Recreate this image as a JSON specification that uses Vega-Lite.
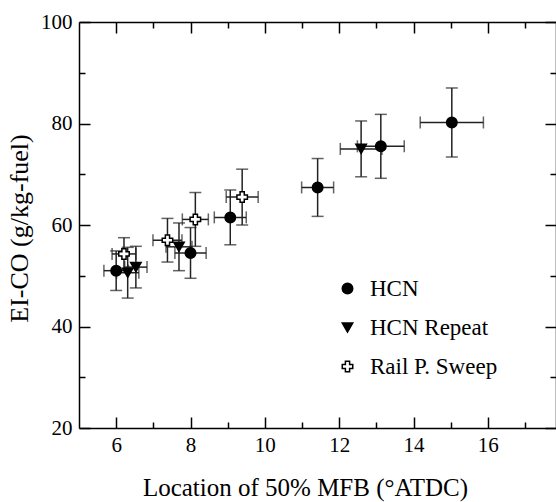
{
  "$schema": "https://vega.github.io/schema/vega-lite/v6.json",
  "autosize": "none",
  "padding": {"left": 79, "top": 22, "right": 0, "bottom": 74},
  "width": 477,
  "height": 406,
  "background": "white",
  "config": {
    "view": {"stroke": null},
    "axis": {
      "labelFont": "Liberation Serif",
      "titleFont": "Liberation Serif",
      "labelFontSize": 21,
      "titleFontSize": 25,
      "labelColor": "black",
      "titleColor": "black",
      "titleFontWeight": "normal",
      "domainColor": "black",
      "domainWidth": 1.5,
      "tickColor": "black",
      "tickWidth": 1.5,
      "grid": false,
      "zindex": 1
    }
  },
  "data": {
    "values": [
      {"s": "HCN", "x": 6.0, "y": 51.0, "xlo": 5.67, "xhi": 6.33, "ylo": 47.1, "yhi": 54.9},
      {"s": "HCN", "x": 8.0, "y": 54.5, "xlo": 7.58, "xhi": 8.42, "ylo": 49.5, "yhi": 59.5},
      {"s": "HCN", "x": 9.07, "y": 61.5, "xlo": 8.64, "xhi": 9.5, "ylo": 56.1, "yhi": 66.9},
      {"s": "HCN", "x": 11.42, "y": 67.4, "xlo": 10.99, "xhi": 11.85, "ylo": 61.7, "yhi": 73.1},
      {"s": "HCN", "x": 13.12, "y": 75.5, "xlo": 12.49, "xhi": 13.75, "ylo": 69.2, "yhi": 81.8},
      {"s": "HCN", "x": 15.03, "y": 80.2, "xlo": 14.18, "xhi": 15.88, "ylo": 73.4, "yhi": 87.0},
      {"s": "HCN Repeat", "x": 6.31, "y": 50.6, "xlo": 6.01, "xhi": 6.61, "ylo": 45.6, "yhi": 55.6},
      {"s": "HCN Repeat", "x": 6.53, "y": 51.7, "xlo": 6.23, "xhi": 6.83, "ylo": 47.6, "yhi": 55.8},
      {"s": "HCN Repeat", "x": 7.69, "y": 55.7, "xlo": 7.34, "xhi": 8.04, "ylo": 51.0, "yhi": 60.4},
      {"s": "HCN Repeat", "x": 12.59, "y": 75.0, "xlo": 12.03, "xhi": 13.15, "ylo": 69.5, "yhi": 80.5},
      {"s": "Rail P. Sweep", "x": 6.21, "y": 54.3, "xlo": 5.89, "xhi": 6.53, "ylo": 51.1, "yhi": 57.5},
      {"s": "Rail P. Sweep", "x": 7.38, "y": 57.0, "xlo": 6.99, "xhi": 7.77, "ylo": 52.7, "yhi": 61.3},
      {"s": "Rail P. Sweep", "x": 8.13, "y": 61.1, "xlo": 7.78, "xhi": 8.48, "ylo": 55.8, "yhi": 66.4},
      {"s": "Rail P. Sweep", "x": 9.39, "y": 65.5, "xlo": 8.96, "xhi": 9.82, "ylo": 60.0, "yhi": 71.0}
    ]
  },
  "resolve": {"axis": {"x": "independent", "y": "independent"}},
  "layer": [
    {
      "mark": {"type": "point", "opacity": 0},
      "encoding": {
        "x": {"field": "x", "type": "quantitative", "scale": {"domain": [5, 17.833], "nice": false, "zero": false},
          "axis": {"orient": "bottom", "values": [6, 7, 8, 9, 10, 11, 12, 13, 14, 15, 16, 17],
            "labelExpr": "datum.value % 2 === 0 ? datum.label : ''",
            "tickSize": -11, "labelPadding": 17,
            "tickDash": {"condition": {"test": "datum.value % 2 === 0", "value": [20, 0]}, "value": [6, 20]},
            "title": "Location of 50% MFB (°ATDC)", "titleX": 226, "titleY": 67, "titleBaseline": "alphabetic", "titleAlign": "center"}},
        "y": {"field": "y", "type": "quantitative", "scale": {"domain": [20, 100], "nice": false, "zero": false},
          "axis": {"orient": "left", "values": [20, 30, 40, 50, 60, 70, 80, 90, 100],
            "labelExpr": "datum.value % 20 === 0 ? datum.label : ''",
            "tickSize": -11, "labelPadding": 18,
            "tickDash": {"condition": {"test": "datum.value % 20 === 0", "value": [20, 0]}, "value": [6, 20]},
            "title": "EI-CO (g/kg-fuel)", "titleFontSize": 26, "titleX": -52, "titleY": 206, "titleBaseline": "alphabetic", "titleAlign": "center", "titleAngle": 270}}
      }
    },
    {
      "mark": {"type": "point", "opacity": 0},
      "encoding": {
        "x": {"field": "x", "type": "quantitative", "scale": {"domain": [5, 17.833], "nice": false, "zero": false},
          "axis": {"orient": "top", "values": [6, 7, 8, 9, 10, 11, 12, 13, 14, 15, 16, 17], "labels": false, "title": null, "tickSize": -11,
            "tickDash": {"condition": {"test": "datum.value % 2 === 0", "value": [20, 0]}, "value": [6, 20]}}},
        "y": {"field": "y", "type": "quantitative", "scale": {"domain": [20, 100], "nice": false, "zero": false},
          "axis": {"orient": "right", "values": [20, 30, 40, 50, 60, 70, 80, 90, 100], "labels": false, "title": null, "tickSize": -11,
            "tickDash": {"condition": {"test": "datum.value % 20 === 0", "value": [20, 0]}, "value": [6, 20]}}}
      }
    },
    {
      "mark": {"type": "rule", "color": "#222", "strokeWidth": 1.5},
      "encoding": {
        "x": {"field": "xlo", "type": "quantitative", "axis": null},
        "x2": {"field": "xhi"},
        "y": {"field": "y", "type": "quantitative", "axis": null}
      }
    },
    {
      "mark": {"type": "rule", "color": "#222", "strokeWidth": 1.5},
      "encoding": {
        "x": {"field": "x", "type": "quantitative", "axis": null},
        "y": {"field": "ylo", "type": "quantitative", "axis": null},
        "y2": {"field": "yhi"}
      }
    },
    {
      "mark": {"type": "tick", "orient": "horizontal", "color": "#222", "thickness": 1.5, "size": 12},
      "encoding": {
        "x": {"field": "x", "type": "quantitative", "axis": null},
        "y": {"field": "ylo", "type": "quantitative", "axis": null}
      }
    },
    {
      "mark": {"type": "tick", "orient": "horizontal", "color": "#222", "thickness": 1.5, "size": 12},
      "encoding": {
        "x": {"field": "x", "type": "quantitative", "axis": null},
        "y": {"field": "yhi", "type": "quantitative", "axis": null}
      }
    },
    {
      "mark": {"type": "tick", "orient": "vertical", "color": "#222", "thickness": 1.5, "size": 12},
      "encoding": {
        "x": {"field": "xlo", "type": "quantitative", "axis": null},
        "y": {"field": "y", "type": "quantitative", "axis": null}
      }
    },
    {
      "mark": {"type": "tick", "orient": "vertical", "color": "#222", "thickness": 1.5, "size": 12},
      "encoding": {
        "x": {"field": "xhi", "type": "quantitative", "axis": null},
        "y": {"field": "y", "type": "quantitative", "axis": null}
      }
    },
    {
      "mark": {"type": "point", "filled": true, "opacity": 1, "stroke": "black", "strokeWidth": 1.5, "size": 110},
      "encoding": {
        "x": {"field": "x", "type": "quantitative", "axis": null},
        "y": {"field": "y", "type": "quantitative", "axis": null},
        "shape": {"field": "s", "type": "nominal",
          "scale": {"domain": ["HCN", "HCN Repeat", "Rail P. Sweep"], "range": ["circle", "triangle-down", "cross"]},
          "legend": {"title": null, "orient": "none", "legendX": 257, "legendY": 255, "padding": 0, "rowPadding": 15, "labelOffset": 11, "symbolSize": 110,
            "labelFont": "Liberation Serif", "labelFontSize": 23, "labelColor": "black",
            "encode": {"symbols": {"update": {"stroke": {"value": "black"}, "strokeWidth": {"value": 1.5}}}}}},
        "fill": {"field": "s", "type": "nominal",
          "scale": {"domain": ["HCN", "HCN Repeat", "Rail P. Sweep"], "range": ["black", "black", "white"]},
          "legend": {"title": null, "orient": "none", "legendX": 257, "legendY": 255, "padding": 0, "rowPadding": 15, "labelOffset": 11, "symbolSize": 110,
            "labelFont": "Liberation Serif", "labelFontSize": 23, "labelColor": "black",
            "encode": {"symbols": {"update": {"stroke": {"value": "black"}, "strokeWidth": {"value": 1.5}}}}}}
      }
    }
  ]
}
